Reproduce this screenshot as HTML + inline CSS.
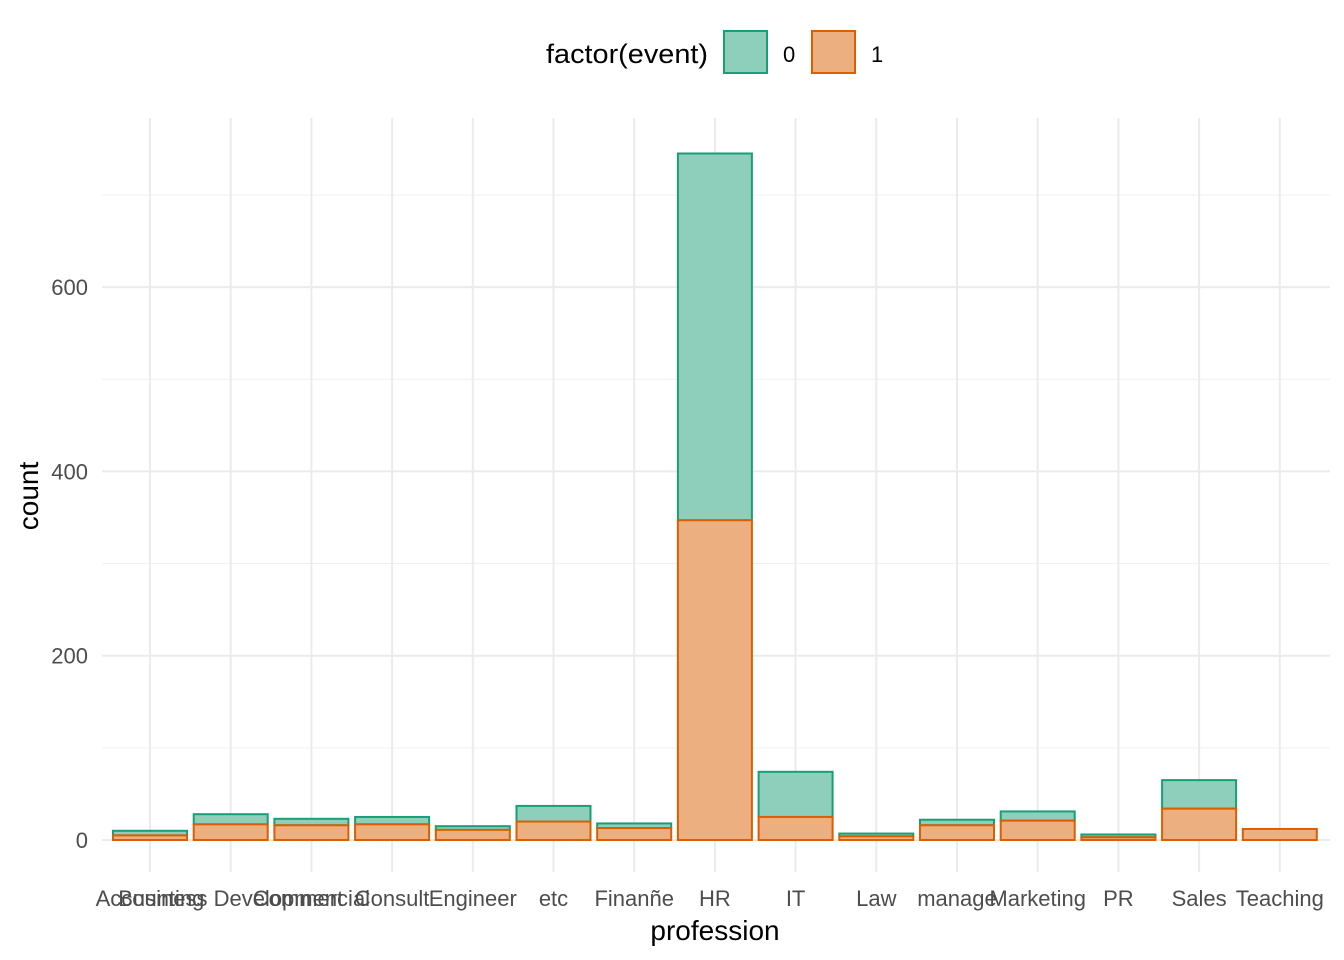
<!DOCTYPE html>
<html><head><meta charset="utf-8"><style>
body{margin:0;background:#fff}
svg{display:block;font-family:"Liberation Sans",Arial,sans-serif}
</style></head><body>
<svg id="chart" width="1344" height="960" viewBox="0 0 1344 960" xmlns="http://www.w3.org/2000/svg">
<g id="grid"></g>
<g id="bars"></g>
<g id="yticks"></g>
<g id="xticks"></g>
<text x="715" y="940" font-size="28" text-anchor="middle" fill="#000">profession</text>
<text transform="translate(38,496) rotate(-90)" font-size="28" text-anchor="middle" fill="#000">count</text>
<g>
<text x="546" y="63" font-size="27" textLength="162" lengthAdjust="spacingAndGlyphs" fill="#000">factor(event)</text>
<rect x="724" y="31" width="43" height="42" fill="#8dcfbb" stroke="#1b9e77" stroke-width="2"/>
<text x="783" y="62" font-size="22" fill="#000">0</text>
<rect x="812" y="31" width="43" height="42" fill="#ecaf80" stroke="#d95f02" stroke-width="2"/>
<text x="871" y="62" font-size="22" fill="#000">1</text>
</g>
</svg>
<script>
const categories=["Accounting","Business Development","Commercial","Consult","Engineer","etc","Finanñe","HR","IT","Law","manage","Marketing","PR","Sales","Teaching"];
const event1=[5,17,16,17,11,20,13,347,25,4,16,21,3,34,12];
const event0=[5,11,7,8,4,17,5,398,49,3,6,10,3,31,0];
const yTicks=[0,200,400,600];
const yMinor=[100,300,500,700];
const NS="http://www.w3.org/2000/svg";
const x0=150,step=80.7,bw=74,yBase=840,k=184.3/200;
const xs=i=>x0+i*step;
const ys=v=>yBase-v*k;
function mk(tag,attrs,parent){const e=document.createElementNS(NS,tag);for(const a in attrs)e.setAttribute(a,attrs[a]);parent.appendChild(e);return e;}
const grid=document.getElementById('grid'),bars=document.getElementById('bars'),yt=document.getElementById('yticks'),xt=document.getElementById('xticks');
yMinor.forEach(v=>{const l=mk('line',{x1:102,x2:1330,y1:ys(v),y2:ys(v),stroke:'#f0f0f0','stroke-width':1},grid);

});
yTicks.forEach(v=>{const l=mk('line',{x1:102,x2:1330,y1:ys(v),y2:ys(v),stroke:'#ebebeb','stroke-width':2},grid);


const t=mk('text',{x:88,y:ys(v)+8,'font-size':22,'text-anchor':'end',fill:'#4d4d4d'},yt);t.textContent=v;

});
categories.forEach((c,i)=>{const l=mk('line',{x1:xs(i),x2:xs(i),y1:118,y2:872,stroke:'#ebebeb','stroke-width':2},grid);


const t=mk('text',{x:xs(i),y:906,'font-size':22,'text-anchor':'middle',fill:'#4d4d4d'},xt);t.textContent=c;


const tot=event0[i]+event1[i];
if(event0[i]>0){const r=mk('rect',{x:xs(i)-bw/2,y:ys(tot),width:bw,height:ys(event1[i])-ys(tot),fill:'#8dcfbb',stroke:'#1b9e77','stroke-width':2},bars);

}
const r2=mk('rect',{x:xs(i)-bw/2,y:ys(event1[i]),width:bw,height:yBase-ys(event1[i]),fill:'#ecaf80',stroke:'#d95f02','stroke-width':2},bars);

});
</script>
</body></html>
